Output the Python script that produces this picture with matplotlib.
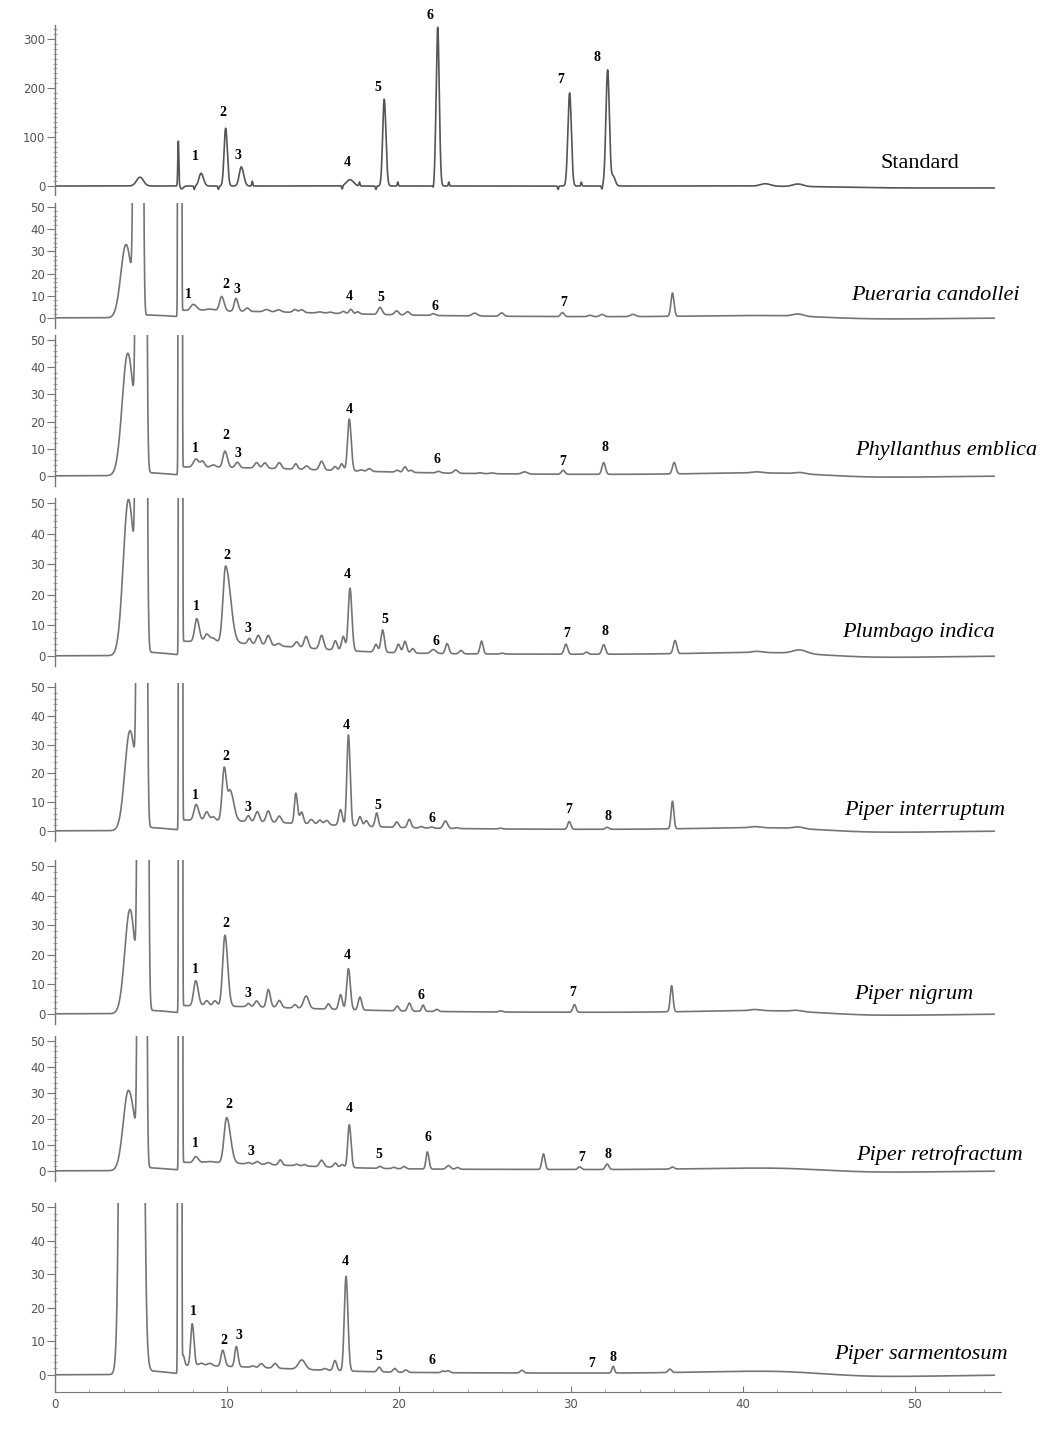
import numpy as np
import matplotlib
matplotlib.use("Agg")
import matplotlib.pyplot as plt
from matplotlib.ticker import FixedLocator


# Peak tables: (retention time, height, sigma left, sigma right)
std_peaks = [
    (4.94, 18, 0.2, 0.2), (7.17, 92, 0.03, 0.03), (7.35, -6, 0.05, 0.1),
    (8.1, -7, 0.03, 0.03), (8.49, 26, 0.12, 0.14), (9.5, -7, 0.03, 0.03),
    (9.92, 118, 0.09, 0.1), (10.83, 39, 0.12, 0.14), (11.47, 10, 0.03, 0.03),
    (16.7, -7, 0.03, 0.03), (17.15, 13, 0.2, 0.2), (17.7, 8, 0.03, 0.03),
    (18.66, -7, 0.03, 0.03), (19.14, 177, 0.09, 0.1), (19.93, 8, 0.03, 0.03),
    (22.0, -7, 0.03, 0.03), (22.25, 324, 0.09, 0.09), (22.9, 8, 0.03, 0.03),
    (29.25, -7, 0.03, 0.03), (29.92, 190, 0.1, 0.1), (30.6, 8, 0.03, 0.03),
    (31.8, -7, 0.03, 0.03), (32.13, 237, 0.1, 0.1), (32.45, 20, 0.1, 0.12),
    (41.3, 5, 0.3, 0.3), (43.2, 5, 0.3, 0.3), (50, -4, 4, 30),
]

pc_peaks = [
    (4.13, 33, 0.3, 0.32), (4.84, 5000, 0.11, 0.11), (5.4, 1.2, 0.1, 1.2),
    (7.25, 1e5, 0.035, 0.035), (7.35, 3.0, 0.05, 8),
    (8.04, 2.8, 0.15, 0.2), (9.0, 0.8, 0.3, 0.3), (9.69, 6.5, 0.12, 0.14),
    (10.52, 5.8, 0.1, 0.12), (11.18, 1.5, 0.12, 0.12), (12.3, 1.0, 0.15, 0.15),
    (13.0, 1.0, 0.15, 0.15), (13.95, 1.3, 0.12, 0.12), (14.34, 1.3, 0.12, 0.12),
    (15.4, 0.5, 0.15, 0.15), (16.0, 0.5, 0.15, 0.15), (16.76, 1.0, 0.12, 0.12),
    (17.2, 2.0, 0.1, 0.1), (17.6, 1.0, 0.1, 0.1), (18.9, 3.2, 0.12, 0.12),
    (19.86, 1.8, 0.12, 0.12), (20.5, 1.5, 0.12, 0.12), (22.0, 0.8, 0.12, 0.12),
    (24.4, 1.3, 0.15, 0.15), (25.97, 1.5, 0.12, 0.12), (29.5, 1.8, 0.1, 0.1),
    (31.1, 0.6, 0.12, 0.12), (31.8, 1.0, 0.12, 0.12), (33.6, 1.0, 0.15, 0.15),
    (35.9, 10.5, 0.09, 0.09), (43.2, 1.0, 0.3, 0.3),
]

pe_peaks = [
    (4.23, 45, 0.32, 0.36), (5.01, 5000, 0.119, 0.119), (5.5, 1.0, 0.1, 1.0),
    (7.28, 1e5, 0.035, 0.035), (7.4, 3.0, 0.05, 8),
    (8.2, 3.0, 0.15, 0.15), (8.58, 2.2, 0.12, 0.12), (9.2, 0.9, 0.15, 0.15),
    (9.88, 6.0, 0.12, 0.14), (10.6, 2.0, 0.12, 0.12), (11.72, 2.0, 0.12, 0.12),
    (12.2, 2.0, 0.12, 0.12), (13.04, 2.2, 0.12, 0.12), (14.0, 2.0, 0.1, 0.1),
    (14.63, 1.3, 0.12, 0.12), (15.5, 3.2, 0.12, 0.12), (16.28, 1.4, 0.1, 0.1),
    (16.67, 2.5, 0.1, 0.1), (17.11, 19, 0.1, 0.11), (17.8, 0.5, 0.1, 0.1),
    (18.27, 1.0, 0.12, 0.12), (19.9, 0.7, 0.1, 0.1), (20.35, 2.0, 0.1, 0.1),
    (20.7, 0.8, 0.1, 0.1), (22.3, 0.6, 0.12, 0.12), (23.3, 1.2, 0.12, 0.12),
    (24.7, 0.3, 0.12, 0.12), (25.4, 0.3, 0.12, 0.12), (27.3, 0.8, 0.15, 0.15),
    (29.54, 1.5, 0.1, 0.1), (31.9, 4.3, 0.1, 0.1), (36.0, 4.2, 0.1, 0.1),
    (40.8, 0.4, 0.3, 0.3), (43.3, 0.5, 0.3, 0.3),
]

pi_peaks = [
    (4.27, 51, 0.3, 0.36), (5.02, 5000, 0.122, 0.122), (5.5, 1.0, 0.1, 1.0),
    (7.3, 1e5, 0.035, 0.035), (7.42, 4.5, 0.05, 6),
    (8.24, 7.5, 0.12, 0.15), (8.82, 2.5, 0.12, 0.15), (9.2, 1.2, 0.15, 0.15),
    (9.92, 25, 0.15, 0.28), (11.3, 1.8, 0.1, 0.1), (11.82, 3.0, 0.12, 0.12),
    (12.4, 3.2, 0.12, 0.12), (13.0, 0.8, 0.12, 0.12), (14.05, 1.8, 0.12, 0.12),
    (14.6, 3.8, 0.12, 0.12), (15.5, 4.5, 0.12, 0.12), (16.3, 3.0, 0.1, 0.1),
    (16.76, 4.6, 0.1, 0.1), (17.15, 20.5, 0.1, 0.11), (18.66, 2.5, 0.1, 0.1),
    (19.05, 7.3, 0.1, 0.1), (19.97, 2.8, 0.1, 0.1), (20.35, 3.8, 0.1, 0.1),
    (20.8, 1.5, 0.1, 0.1), (22.0, 1.3, 0.15, 0.15), (22.8, 3.3, 0.1, 0.1),
    (23.6, 1.1, 0.1, 0.1), (24.8, 4.2, 0.09, 0.09), (26.0, 0.3, 0.1, 0.1),
    (29.7, 3.3, 0.1, 0.1), (30.9, 0.7, 0.1, 0.1), (31.9, 3.1, 0.1, 0.1),
    (36.05, 4.3, 0.1, 0.1), (40.8, 0.4, 0.3, 0.3), (43.3, 1.2, 0.4, 0.4),
]

pint_peaks = [
    (4.36, 34.7, 0.3, 0.34), (5.05, 5000, 0.114, 0.114), (5.5, 1.0, 0.1, 1.0),
    (7.3, 1e5, 0.035, 0.035), (7.42, 3.5, 0.05, 7),
    (8.2, 5.5, 0.12, 0.15), (8.82, 3.0, 0.12, 0.12), (9.2, 1.3, 0.12, 0.12),
    (9.84, 18.5, 0.12, 0.14), (10.2, 10, 0.12, 0.2), (11.24, 2.0, 0.1, 0.1),
    (11.76, 3.5, 0.12, 0.12), (12.4, 3.9, 0.12, 0.12), (13.04, 2.3, 0.12, 0.12),
    (14.0, 10.5, 0.08, 0.1), (14.34, 4.0, 0.1, 0.1), (14.9, 1.6, 0.12, 0.12),
    (15.4, 1.5, 0.12, 0.12), (15.8, 1.5, 0.12, 0.12), (16.6, 5.5, 0.1, 0.1),
    (17.06, 31.5, 0.09, 0.1), (17.73, 3.3, 0.1, 0.1), (18.1, 2.0, 0.1, 0.1),
    (18.7, 4.8, 0.09, 0.09), (19.87, 1.9, 0.1, 0.1), (20.6, 2.9, 0.1, 0.1),
    (21.3, 0.5, 0.1, 0.1), (21.9, 0.4, 0.1, 0.1), (22.7, 2.6, 0.12, 0.12),
    (23.35, 0.3, 0.1, 0.1), (25.9, 0.3, 0.1, 0.1), (29.9, 2.7, 0.09, 0.09),
    (32.1, 0.7, 0.1, 0.1), (35.9, 9.6, 0.08, 0.08), (40.7, 0.4, 0.3, 0.3),
    (43.2, 0.6, 0.3, 0.3),
]

pn_peaks = [
    (4.36, 35.2, 0.3, 0.3), (5.11, 5000, 0.119, 0.119), (5.6, 1.0, 0.1, 1.0),
    (7.3, 1e5, 0.035, 0.035), (7.42, 2.5, 0.05, 7),
    (8.18, 8.5, 0.12, 0.15), (8.82, 1.8, 0.12, 0.12), (9.3, 1.8, 0.12, 0.12),
    (9.88, 24, 0.13, 0.16), (11.24, 1.1, 0.1, 0.1), (11.72, 2.0, 0.12, 0.12),
    (12.4, 6.0, 0.1, 0.12), (13.04, 2.4, 0.12, 0.12), (13.95, 1.2, 0.1, 0.1),
    (14.6, 4.2, 0.15, 0.15), (15.9, 1.8, 0.1, 0.1), (16.6, 5.0, 0.1, 0.1),
    (17.06, 13.9, 0.1, 0.11), (17.73, 4.4, 0.1, 0.1), (19.9, 1.6, 0.1, 0.1),
    (20.6, 2.7, 0.1, 0.1), (21.4, 2.1, 0.08, 0.08), (22.2, 0.7, 0.1, 0.1),
    (25.9, 0.4, 0.1, 0.1), (30.2, 2.6, 0.09, 0.09), (35.85, 8.8, 0.08, 0.08),
    (40.7, 0.4, 0.3, 0.3), (43.1, 0.4, 0.3, 0.3),
]

pr_peaks = [
    (4.27, 30.9, 0.3, 0.38), (5.06, 5000, 0.102, 0.102), (5.5, 1.0, 0.1, 1.0),
    (7.3, 1e5, 0.035, 0.035), (7.42, 3.0, 0.05, 6),
    (8.18, 2.3, 0.12, 0.15), (9.0, 0.5, 0.3, 0.3), (9.98, 17.5, 0.15, 0.22),
    (11.24, 0.5, 0.1, 0.1), (11.76, 1.0, 0.12, 0.12), (12.4, 0.8, 0.12, 0.12),
    (13.1, 2.0, 0.1, 0.1), (14.05, 0.6, 0.1, 0.1), (14.5, 0.6, 0.1, 0.1),
    (15.5, 2.5, 0.12, 0.12), (16.3, 1.6, 0.1, 0.1), (16.7, 1.1, 0.1, 0.1),
    (17.11, 16.5, 0.09, 0.1), (18.9, 0.8, 0.1, 0.1), (19.7, 0.5, 0.1, 0.1),
    (20.3, 0.9, 0.1, 0.1), (21.65, 6.6, 0.08, 0.09), (22.87, 1.4, 0.12, 0.12),
    (23.4, 0.7, 0.1, 0.1), (28.4, 6.0, 0.09, 0.09), (30.5, 1.0, 0.1, 0.1),
    (32.1, 2.1, 0.1, 0.1), (35.9, 0.8, 0.1, 0.1),
]

ps_peaks = [
    (4.46, 5000, 0.26, 0.26), (5.5, 1.0, 0.1, 1.0),
    (7.25, 1e5, 0.035, 0.035), (7.45, 3.0, 0.05, 0.08), (7.42, 2.5, 0.05, 6),
    (7.98, 12.5, 0.09, 0.1), (8.5, 0.8, 0.15, 0.15), (9.0, 0.8, 0.15, 0.15),
    (9.75, 4.8, 0.1, 0.12), (10.54, 6.0, 0.09, 0.1), (11.5, 0.4, 0.1, 0.1),
    (12.0, 1.2, 0.12, 0.12), (12.8, 1.4, 0.12, 0.12), (14.35, 2.8, 0.2, 0.2),
    (15.7, 0.5, 0.12, 0.12), (16.28, 3.0, 0.1, 0.1), (16.92, 28.2, 0.1, 0.11),
    (18.85, 1.4, 0.1, 0.1), (19.75, 1.1, 0.1, 0.1), (20.4, 0.7, 0.1, 0.1),
    (22.55, 0.5, 0.1, 0.1), (22.85, 0.6, 0.1, 0.1), (27.15, 0.8, 0.1, 0.1),
    (32.45, 2.0, 0.07, 0.07), (35.75, 1.0, 0.1, 0.1),
]

# slow baseline drift common to the extracts
drift_peaks = [(25, 0.6, 12, 15), (41.5, 0.8, 4, 2.5), (48, -0.6, 2.5, 4)]

# peak numbers: (text, time, signal)
std_labels = [("1", 8.18, 60), ("2", 9.77, 149), ("3", 10.64, 63), ("4", 16.98, 48),
              ("5", 18.78, 202), ("6", 21.8, 347), ("7", 29.4, 218), ("8", 31.5, 263)]
pc_labels = [("1", 7.73, 10.4), ("2", 9.94, 14.9), ("3", 10.58, 12.9), ("4", 17.09, 9.9),
             ("5", 18.94, 9.1), ("6", 22.09, 5.4), ("7", 29.6, 6.8)]
pe_labels = [("1", 8.18, 10.2), ("2", 9.94, 14.8), ("3", 10.64, 8.3), ("4", 17.09, 24.5),
             ("6", 22.2, 5.9), ("7", 29.5, 5.3), ("8", 32.0, 10.3)]
pi_labels = [("1", 8.24, 16.1), ("2", 9.98, 33), ("3", 11.24, 9.1), ("4", 17.0, 26.5),
             ("5", 19.15, 11.8), ("6", 22.15, 4.9), ("7", 29.75, 7.4), ("8", 31.95, 7.9)]
pint_labels = [("1", 8.18, 12.2), ("2", 9.92, 25.8), ("3", 11.24, 8.2), ("4", 16.96, 36.8),
               ("5", 18.76, 9.0), ("6", 21.92, 4.4), ("7", 29.87, 7.6), ("8", 32.14, 5.0)]
pn_labels = [("1", 8.18, 15.1), ("2", 9.92, 30.6), ("3", 11.24, 7.0), ("4", 17.0, 19.6),
             ("6", 21.3, 6.4), ("7", 30.1, 7.2)]
pr_labels = [("1", 8.18, 10.4), ("2", 10.13, 25.4), ("3", 11.38, 7.4), ("4", 17.09, 24.1),
             ("5", 18.84, 6.2), ("6", 21.7, 12.8), ("7", 30.6, 5.3), ("8", 32.14, 6.4)]
ps_labels = [("1", 8.04, 18.8), ("2", 9.79, 10.4), ("3", 10.68, 11.9), ("4", 16.86, 33.7),
             ("5", 18.82, 5.4), ("6", 21.92, 4.2), ("7", 31.18, 3.5), ("8", 32.46, 5.1)]

sample_names = ["Standard", "Pueraria candollei", "Phyllanthus emblica", "Plumbago indica",
                "Piper interruptum", "Piper nigrum", "Piper retrofractum", "Piper sarmentosum"]
panel_peaks = [std_peaks, pc_peaks, pe_peaks, pi_peaks, pint_peaks, pn_peaks, pr_peaks, ps_peaks]
panel_labels = [std_labels, pc_labels, pe_labels, pi_labels, pint_labels, pn_labels,
                pr_labels, ps_labels]

x_ticks = [0, 10, 20, 30, 40, 50]


# layout in pixels: (axes top, zero line, top tick line, top tick value, axes bottom)
W, H = 1041, 1435
X0_PX, X1_PX = 55, 1001
panel_px = [
    (25, 186, 39, 300, 195),
    (203, 318, 207, 50, 328),
    (335, 476, 340, 50, 486),
    (498, 656, 503, 50, 666),
    (683, 831, 687, 50, 841),
    (860, 1014, 866, 50, 1024),
    (1036, 1171, 1041, 50, 1181),
    (1203, 1375, 1207, 50, 1392),
]
# name placement: (x px, centre y px, horizontal alignment)
name_px = [(920, 163, "center"), (1020, 296, "right"), (1037, 451, "right"),
           (995, 633, "right"), (1005, 810, "right"), (973, 995, "right"),
           (1023, 1155, "right"), (1008, 1355, "right")]


def chromatogram(t, peaks):
    y = np.zeros_like(t)
    for rt, h, sl, sr in peaks:
        s = np.where(t < rt, sl, sr)
        y += h * np.exp(-0.5 * ((t - rt) / s) ** 2)
    return y


t = np.linspace(0, 54.6, 8000)

fig = plt.figure(figsize=(W / 100, H / 100), dpi=100)

for i, (peaks, labels) in enumerate(zip(panel_peaks, panel_labels)):
    top, zero, ref, ref_val, bottom = panel_px[i]
    ppu = (zero - ref) / ref_val
    ax = fig.add_axes([X0_PX / W, 1 - bottom / H, (X1_PX - X0_PX) / W, (bottom - top) / H])

    y = chromatogram(t, peaks)
    if i > 0:
        y = y + chromatogram(t, drift_peaks)
    color = "#555555" if i == 0 else "#747474"
    ax.plot(t, y, color=color, lw=1.2)

    ax.set_xlim(0, 55)
    ax.set_ylim(-(bottom - zero) / ppu, (zero - top) / ppu)

    for s in ["top", "right"]:
        ax.spines[s].set_visible(False)
    ax.spines["left"].set_color("#777777")
    ax.spines["left"].set_linewidth(1.0)

    if i == 0:
        ax.yaxis.set_major_locator(FixedLocator([0, 100, 200, 300]))
        ax.yaxis.set_minor_locator(FixedLocator(np.arange(0, 330, 10)))
    else:
        ax.yaxis.set_major_locator(FixedLocator([0, 10, 20, 30, 40, 50]))
        ax.yaxis.set_minor_locator(FixedLocator(np.arange(0, 52, 2)))
    ax.tick_params(axis="y", which="major", direction="out", length=6, width=0.8,
                   color="#777777", labelsize=8.5, labelcolor="#555555", pad=1)
    ax.tick_params(axis="y", which="minor", direction="inout", length=3, width=0.6,
                   color="#999999")

    if i == len(panel_peaks) - 1:
        ax.spines["bottom"].set_color("#777777")
        ax.set_xticks(x_ticks)
        ax.xaxis.set_minor_locator(FixedLocator(np.arange(0, 55, 2)))
        ax.tick_params(axis="x", which="major", direction="in", length=4, width=0.8,
                       color="#777777", labelsize=8.5, labelcolor="#555555", pad=4)
        ax.tick_params(axis="x", which="minor", direction="in", length=2.5, width=0.6,
                       color="#999999")
    else:
        ax.spines["bottom"].set_visible(False)
        ax.set_xticks([])

    ax.patch.set_alpha(0)

    for txt, lx, ly in labels:
        ax.text(lx, ly, txt, ha="center", va="center", fontsize=10, fontweight="bold",
                family="Liberation Serif", color="black", clip_on=False)

    nx, ny, nha = name_px[i]
    fig.text(nx / W, 1 - ny / H, sample_names[i], ha=nha, va="center", fontsize=16,
             family="Liberation Serif", style="normal" if i == 0 else "italic")

plt.savefig("out.png", dpi=100)
plt.close()
